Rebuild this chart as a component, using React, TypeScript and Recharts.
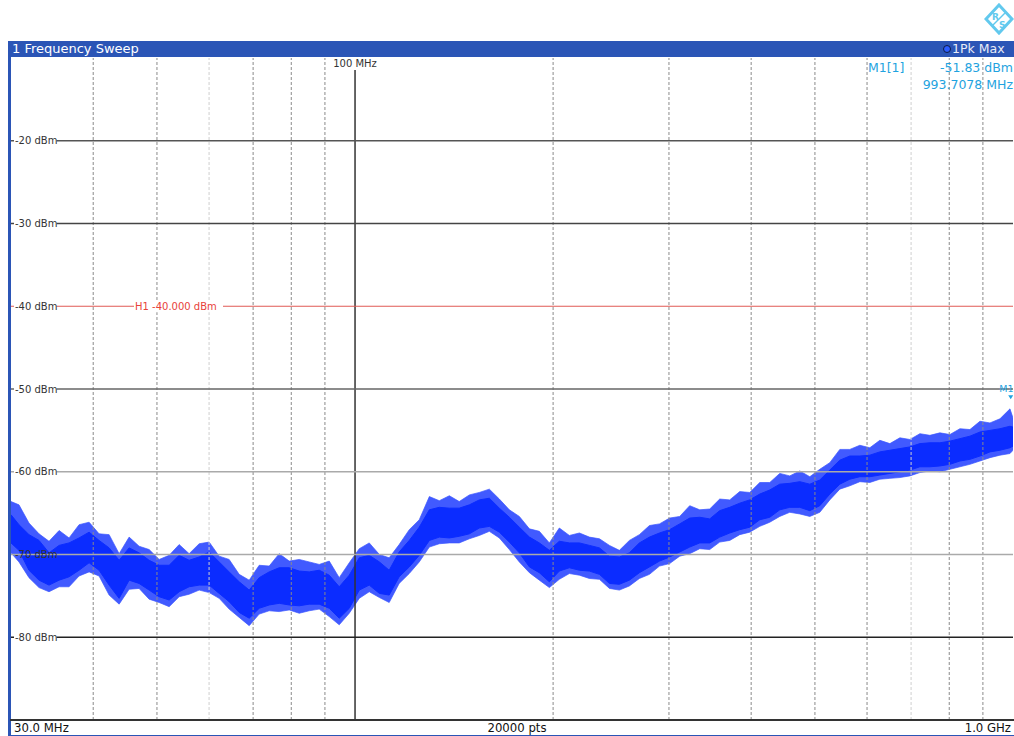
import React from "react";
import { ComposedChart, Area, XAxis, YAxis, ReferenceLine, ReferenceDot } from "recharts";

const freqMHz = [
  30.0, 30.85, 31.95, 33.09, 34.27, 35.5, 36.76, 38.07, 39.43, 40.83,
  42.29, 43.8, 45.36, 46.97, 48.65, 50.38, 52.18, 54.04, 55.96, 57.96,
  60.02, 62.16, 64.37, 66.67, 69.05, 71.51, 74.05, 76.69, 79.43, 82.26,
  85.19, 88.22, 91.37, 94.62, 98.0, 101.5, 105.1, 108.9, 112.7, 116.7,
  120.9, 125.2, 129.7, 134.3, 139.1, 144.0, 149.2, 154.5, 160.0, 165.7,
  171.6, 177.7, 184.1, 190.6, 197.4, 204.4, 211.7, 219.3, 227.1, 235.2,
  243.6, 252.2, 261.2, 270.5, 280.2, 290.2, 300.7, 311.5, 322.6, 334.1,
  346.0, 358.3, 371.1, 384.3, 398.0, 412.2, 426.9, 442.1, 457.8, 474.2,
  491.1, 508.6, 526.7, 545.5, 564.9, 585.1, 605.9, 627.5, 649.9, 673.1,
  697.1, 721.9, 747.7, 774.3, 801.9, 830.5, 860.1, 890.8, 922.5, 955.4,
  989.5, 1000.0,
];
// dense part of the trace
const traceHi = [
  -65.2, -66.4, -67.6, -68.3, -69.8, -68.9, -68.6, -68.0, -67.3, -68.3,
  -69.2, -70.7, -69.2, -69.8, -70.7, -71.3, -71.3, -70.1, -70.7, -70.3,
  -69.7, -70.9, -72.1, -73.3, -74.3, -72.8, -72.1, -71.6, -71.6, -72.0,
  -72.1, -71.9, -72.5, -73.9, -72.5, -70.4, -70.1, -70.9, -71.9, -69.7,
  -68.3, -66.7, -64.6, -64.3, -64.4, -64.4, -64.0, -63.4, -63.2, -64.4,
  -65.5, -66.7, -67.9, -68.6, -69.5, -68.4, -68.6, -68.6, -68.9, -69.2,
  -70.2, -70.3, -69.8, -68.6, -67.9, -67.4, -67.0, -66.3, -65.6, -65.5,
  -65.7, -64.7, -64.3, -63.8, -63.4, -62.7, -62.2, -61.5, -61.4, -61.2,
  -61.5, -61.0, -59.8, -58.6, -58.1, -58.1, -58.0, -57.6, -57.4, -57.2,
  -57.0, -56.6, -56.5, -56.5, -56.3, -56.0, -55.7, -55.2, -55.0, -54.8,
  -54.5, -54.6,
];
const traceLo = [
  -68.6, -69.5, -71.9, -73.1, -73.7, -73.1, -72.7, -71.9, -71.0, -71.9,
  -73.7, -75.3, -73.1, -73.5, -74.3, -75.1, -75.5, -74.5, -73.9, -73.7,
  -73.7, -74.7, -75.7, -77.0, -77.7, -76.5, -76.1, -75.9, -76.1, -76.2,
  -76.0, -76.0, -76.5, -77.7, -76.5, -74.3, -73.7, -74.7, -74.9, -72.7,
  -71.5, -70.1, -68.3, -67.9, -68.0, -67.8, -67.5, -66.8, -66.6, -67.3,
  -68.5, -69.8, -71.5, -72.2, -73.3, -72.0, -71.6, -71.9, -72.0, -72.4,
  -73.5, -73.6, -73.1, -72.2, -71.5, -70.8, -70.3, -69.7, -69.1, -68.6,
  -68.6, -67.9, -67.4, -67.0, -66.7, -65.8, -65.5, -64.6, -64.3, -64.3,
  -64.7, -64.1, -62.7, -61.5, -60.9, -60.6, -60.6, -60.4, -60.2, -60.0,
  -59.8, -59.4, -59.4, -59.3, -59.1, -58.7, -58.5, -58.1, -57.6, -57.4,
  -57.1, -56.9,
];
// noise spikes sticking out of the dense part
const spikeHi = [
  -63.6, -64.0, -66.2, -67.5, -68.4, -67.1, -68.0, -66.4, -66.1, -67.5,
  -67.6, -69.9, -67.9, -69.0, -69.4, -70.6, -70.1, -68.8, -69.9, -68.7,
  -68.5, -70.2, -70.6, -72.4, -73.1, -71.3, -71.4, -69.9, -70.8, -70.6,
  -70.9, -71.2, -70.8, -72.8, -71.0, -69.3, -68.6, -70.0, -70.4, -68.8,
  -67.0, -65.8, -63.0, -63.5, -62.9, -63.6, -62.8, -62.5, -62.1, -63.3,
  -64.6, -65.4, -66.9, -67.2, -68.6, -66.8, -67.7, -67.4, -67.9, -68.1,
  -68.9, -69.5, -68.3, -67.6, -66.5, -66.3, -65.6, -65.4, -64.1, -64.6,
  -64.5, -63.3, -63.4, -62.4, -62.5, -61.3, -61.3, -60.2, -60.5, -59.9,
  -60.6, -59.7, -58.9, -57.3, -57.3, -56.8, -57.1, -56.2, -56.6, -55.9,
  -56.1, -55.4, -55.6, -55.3, -55.5, -54.8, -54.9, -53.9, -54.1, -53.6,
  -52.4, -53.5,
];
const spikeLo = [
  -69.8, -70.9, -72.8, -74.0, -74.5, -73.9, -73.9, -72.6, -72.1, -72.6,
  -74.9, -76.0, -74.2, -74.1, -75.4, -75.8, -76.3, -75.1, -74.8, -74.3,
  -74.6, -75.3, -76.6, -77.6, -78.6, -77.2, -76.8, -76.9, -76.7, -77.1,
  -76.8, -76.6, -77.5, -78.5, -77.1, -75.3, -74.5, -75.2, -75.8, -73.5,
  -72.3, -70.9, -69.1, -68.7, -68.6, -68.6, -68.1, -67.7, -67.2, -68.0,
  -69.4, -70.9, -72.2, -73.1, -74.0, -73.0, -72.3, -72.5, -72.9, -73.0,
  -74.1, -74.3, -73.8, -72.9, -72.4, -71.4, -71.1, -70.2, -69.9, -69.3,
  -69.4, -68.5, -68.3, -67.6, -67.3, -66.6, -66.1, -65.4, -64.9, -65.1,
  -65.4, -64.9, -63.4, -62.1, -61.7, -61.2, -61.3, -60.9, -60.8, -60.7,
  -60.5, -60.1, -59.9, -60.0, -59.7, -59.4, -59.1, -58.7, -58.3, -58.0,
  -57.8, -57.4,
];

const gridMHz = [40, 50, 60, 70, 80, 90, 200, 300, 400, 500, 600, 700, 800, 900];
const faintGridMHz = [60, 700];
const levelTicks = [-20, -30, -50, -60, -70, -80];
const h1Level = -40;
const markerMHz = 993.7078;
const markerLevel = -51.83;

const BLUE_BAR = "#2b55b6";
const TRACE = "#0b2cff";
const MARKER = "#1fa3e0";
const LOGO = "#62c9ee";
const FONT = "'DejaVu Sans', Verdana, sans-serif";
const NARROW = "'DejaVu Sans Condensed', 'DejaVu Sans', sans-serif";

const levelStroke: Record<number, string> = {
  [-20]: "#555",
  [-30]: "#444",
  [-50]: "#666",
  [-60]: "#aaa",
  [-70]: "#aaa",
  [-80]: "#222",
};

function LevelLabel(props: any) {
  const { viewBox, text, color, offsetX, plain } = props;
  if (!viewBox) return null;
  const x = viewBox.x + (offsetX ?? 3);
  const y = viewBox.y;
  const w = text.length * 5.8 + 2;
  return (
    <g>
      {!plain && <rect x={x} y={y - 6} width={w} height={12} fill="#fff" />}
      <text x={x + 1} y={y + 3.5} fontSize={10} fill={color} fontFamily={FONT}>
        {text}
      </text>
    </g>
  );
}

function TopLabel(props: any) {
  const { viewBox, text } = props;
  if (!viewBox) return null;
  const cx = viewBox.x;
  const y = viewBox.y;
  return (
    <g>
      <rect x={cx - 22} y={y} width={44} height={12} fill="#fff" />
      <text x={cx} y={y + 9} fontSize={10} fill="#333" textAnchor="middle" fontFamily={FONT}>
        {text}
      </text>
    </g>
  );
}

function MarkerShape(props: any) {
  const { cx, cy } = props;
  return (
    <g>
      <path d={`M${cx - 3},${cy - 9} L${cx + 2},${cy - 9} L${cx - 0.5},${cy - 5} Z`} fill={MARKER} />
      <text x={cx - 12} y={cy - 12} fontSize={9.5} fill={MARKER} fontFamily={FONT}>
        M1
      </text>
    </g>
  );
}

function RsLogo() {
  return (
    <svg width={32} height={34} style={{ position: "absolute", left: 984, top: 3 }}>
      <path d="M15,2 L28,16 L15,30 L2,16 Z" fill="none" stroke={LOGO} strokeWidth={3} strokeLinejoin="miter" />
      <path d="M21,10 L9,22" stroke={LOGO} strokeWidth={1.5} />
      <text x={8} y={17} fontSize={9} fill={LOGO} fontFamily={FONT} fontWeight="bold">R</text>
      <text x={15} y={25} fontSize={9} fill={LOGO} fontFamily={FONT} fontWeight="bold">S</text>
    </svg>
  );
}

export default function App() {
  const data = freqMHz.map((f, i) => ({
    f,
    core: [traceLo[i], traceHi[i]],
    fringe: [spikeLo[i], spikeHi[i]],
  }));

  return (
    <div
      style={{
        position: "absolute",
        left: 0,
        top: 0,
        width: 1014,
        height: 736,
        background: "#fff",
        fontFamily: FONT,
        overflow: "hidden",
      }}
    >
      <RsLogo />

      {/* title bar */}
      <div
        style={{
          position: "absolute",
          left: 8,
          top: 41,
          width: 1006,
          height: 16,
          background: BLUE_BAR,
        }}
      >
        <span style={{ position: "absolute", left: 4, top: 0, fontSize: 13, lineHeight: "16px", color: "#fff" }}>
          1 Frequency Sweep
        </span>
        <span
          style={{
            position: "absolute",
            left: 935,
            top: 4,
            width: 6,
            height: 6,
            borderRadius: 4,
            background: "#2a5cff",
            border: "1.5px solid #0e1a40",
          }}
        />
        <span style={{ position: "absolute", left: 944, top: 0, fontSize: 12.5, lineHeight: "16px", color: "#e8ecf6" }}>
          1Pk Max
        </span>
      </div>

      <ComposedChart
        width={1014}
        height={736}
        data={data}
        margin={{ top: 58, right: 1, bottom: 16, left: 11 }}
        style={{ position: "absolute", left: 0, top: 0 }}
      >
        <XAxis dataKey="f" type="number" scale="log" domain={[30, 1000]} allowDataOverflow hide />
        <YAxis type="number" domain={[-90, -10]} allowDataOverflow hide />

        {gridMHz.map((f) => (
          <ReferenceLine
            key={`v${f}`}
            x={f}
            stroke={faintGridMHz.includes(f) ? "#cfcfcf" : "#8a8a8a"}
            strokeDasharray="3 2"
            strokeWidth={1}
          />
        ))}
        <ReferenceLine x={100} stroke="#333" strokeWidth={1.5} label={<TopLabel text="100 MHz" />} />

        <Area
          type="linear"
          dataKey="fringe"
          stroke="#3a55ff"
          strokeWidth={1}
          strokeOpacity={0.7}
          fill={TRACE}
          fillOpacity={0.78}
          isAnimationActive={false}
          dot={false}
          activeDot={false}
        />
        <Area
          type="linear"
          dataKey="core"
          stroke={TRACE}
          strokeWidth={1}
          fill={TRACE}
          fillOpacity={1}
          isAnimationActive={false}
          dot={false}
          activeDot={false}
        />

        {levelTicks.map((v) => (
          <ReferenceLine
            key={`h${v}`}
            y={v}
            stroke={levelStroke[v]}
            strokeWidth={1.3}
            label={<LevelLabel text={`${v} dBm`} color="#333" plain={v === -70} />}
          />
        ))}
        <ReferenceLine
          y={h1Level}
          stroke="#e05a55"
          strokeWidth={1.2}
          label={<LevelLabel text={`${h1Level} dBm`} color="#333" />}
        />
        <ReferenceLine
          y={h1Level}
          stroke="none"
          label={<LevelLabel text={`H1  ${h1Level.toFixed(3)} dBm`} color="#e8413a" offsetX={123} />}
        />

        <ReferenceDot x={markerMHz} y={markerLevel} r={0} shape={<MarkerShape />} />
      </ComposedChart>

      {/* marker readout */}
      <div style={{ position: "absolute", left: 868, top: 59, fontSize: 12.5, lineHeight: "17px", color: MARKER }}>
        M1[1]
      </div>
      <div
        style={{
          position: "absolute",
          right: 1,
          top: 59,
          fontSize: 12.5,
          lineHeight: "17px",
          color: MARKER,
          textAlign: "right",
          whiteSpace: "pre",
        }}
      >
        {`${markerLevel.toFixed(2)} dBm\n${markerMHz.toFixed(4)} MHz`}
      </div>

      {/* frame and footer */}
      <div style={{ position: "absolute", left: 8, top: 41, width: 2.5, height: 695, background: BLUE_BAR }} />
      <div style={{ position: "absolute", left: 10, top: 719, width: 1004, height: 1.5, background: "#333" }} />
      <div style={{ position: "absolute", left: 8, top: 734.5, width: 1006, height: 1.5, background: BLUE_BAR }} />
      <div style={{ position: "absolute", left: 14, top: 720, fontSize: 13, lineHeight: "15px", color: "#111", fontFamily: NARROW }}>
        30.0 MHz
      </div>
      <div
        style={{
          position: "absolute",
          left: 0,
          width: 1034,
          top: 720,
          textAlign: "center",
          fontSize: 13,
          lineHeight: "15px",
          color: "#111",
          fontFamily: NARROW,
        }}
      >
        20000 pts
      </div>
      <div style={{ position: "absolute", right: 3, top: 720, fontSize: 13, lineHeight: "15px", color: "#111", fontFamily: NARROW }}>
        1.0 GHz
      </div>
    </div>
  );
}
